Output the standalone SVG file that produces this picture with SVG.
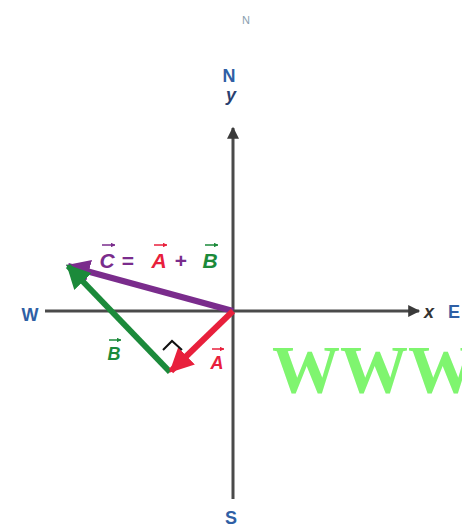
<svg xmlns="http://www.w3.org/2000/svg" width="462" height="531" viewBox="0 0 462 531">
<style>
.ax{stroke:#4a4a4a;stroke-width:3;fill:none}
.dir{font-family:"Liberation Sans",Arial,sans-serif;font-weight:bold;font-size:18px;fill:#2f5fa5;text-anchor:middle}
.var{font-family:"Liberation Sans",Arial,sans-serif;font-weight:bold;font-style:italic;font-size:18px;text-anchor:middle}
.eqt{font-family:"Liberation Sans",Arial,sans-serif;font-weight:bold;font-size:21px;text-anchor:middle}
.vec{stroke-width:6;fill:none;stroke-linecap:butt}
.ov{stroke-width:1.5;fill:none}
</style>
<defs>
<marker id="ah" viewBox="0 0 10 10" refX="9" refY="5" markerWidth="5" markerHeight="4" orient="auto" markerUnits="strokeWidth"><path d="M0,0L10,5L0,10z" fill="#3a3a3a"/></marker>
<marker id="aR" viewBox="0 0 10 10" refX="9" refY="5" markerWidth="4" markerHeight="4" orient="auto" markerUnits="strokeWidth"><path d="M0,0L10,5L0,10z" fill="#e8203c"/></marker>
<marker id="aG" viewBox="0 0 10 10" refX="9" refY="5" markerWidth="4" markerHeight="4" orient="auto" markerUnits="strokeWidth"><path d="M0,0L10,5L0,10z" fill="#1b8a3a"/></marker>
<marker id="aP" viewBox="0 0 10 10" refX="9" refY="5" markerWidth="4" markerHeight="4" orient="auto" markerUnits="strokeWidth"><path d="M0,0L10,5L0,10z" fill="#7a2c8c"/></marker>
<marker id="oa" viewBox="0 0 10 10" refX="9" refY="5" markerWidth="3" markerHeight="3" orient="auto" markerUnits="strokeWidth"><path d="M0,0L10,5L0,10z" fill="context-stroke"/></marker>
</defs>
<text x="246" y="24" font-family="Liberation Sans,Arial,sans-serif" font-size="11" fill="#8aa0b0" text-anchor="middle">N</text>
<g id="axes">
<line class="ax" x1="233" y1="499" x2="233" y2="128" marker-end="url(#ah)"/>
<line class="ax" x1="45" y1="311" x2="419" y2="311" marker-end="url(#ah)"/>
</g>
<g id="labels">
<text class="dir" x="229" y="82">N</text>
<text class="var" x="231" y="101" fill="#2a3f70">y</text>
<text class="dir" x="231" y="524">S</text>
<text class="dir" x="30" y="321">W</text>
<text class="var" x="429" y="318" fill="#333">x</text>
<text class="dir" x="454" y="318">E</text>
</g>
<g id="connectors">
<line class="vec" stroke="#7a2c8c" x1="233" y1="311" x2="68" y2="266" marker-end="url(#aP)"/>
<line class="vec" stroke="#1b8a3a" x1="170" y1="372" x2="68" y2="266" marker-end="url(#aG)"/>
<line class="vec" stroke="#e8203c" x1="233" y1="311" x2="171" y2="371" marker-end="url(#aR)"/>
<path d="M163,350 L172,341 L182,350" fill="none" stroke="#111" stroke-width="2"/>
</g>
<g id="eq">
<text class="eqt" x="107" y="268" fill="#7a2c8c" font-style="italic">C</text>
<text class="eqt" x="128" y="268" fill="#7a2c8c">=</text>
<text class="eqt" x="159" y="268" fill="#e8203c" font-style="italic">A</text>
<text class="eqt" x="181" y="268" fill="#7a2c8c">+</text>
<text class="eqt" x="210" y="268" fill="#1b8a3a" font-style="italic">B</text>
<line class="ov" stroke="#7a2c8c" x1="102" y1="245" x2="115" y2="245" marker-end="url(#oa)"/>
<line class="ov" stroke="#e8203c" x1="154" y1="245" x2="167" y2="245" marker-end="url(#oa)"/>
<line class="ov" stroke="#1b8a3a" x1="205" y1="245" x2="218" y2="245" marker-end="url(#oa)"/>
</g>
<g id="labelB">
<text class="var" x="114" y="360" fill="#1b8a3a">B</text>
<line class="ov" stroke="#1b8a3a" x1="109" y1="340" x2="121" y2="340" marker-end="url(#oa)"/>
</g>
<g id="labelA">
<text class="var" x="217" y="369" fill="#e8203c">A</text>
<line class="ov" stroke="#e8203c" x1="212" y1="349" x2="224" y2="349" marker-end="url(#oa)"/>
</g>
<text x="272" y="392" font-family="Liberation Serif,Times New Roman,serif" font-weight="bold" font-size="68" fill="#7ff56f">WWW</text>
</svg>
